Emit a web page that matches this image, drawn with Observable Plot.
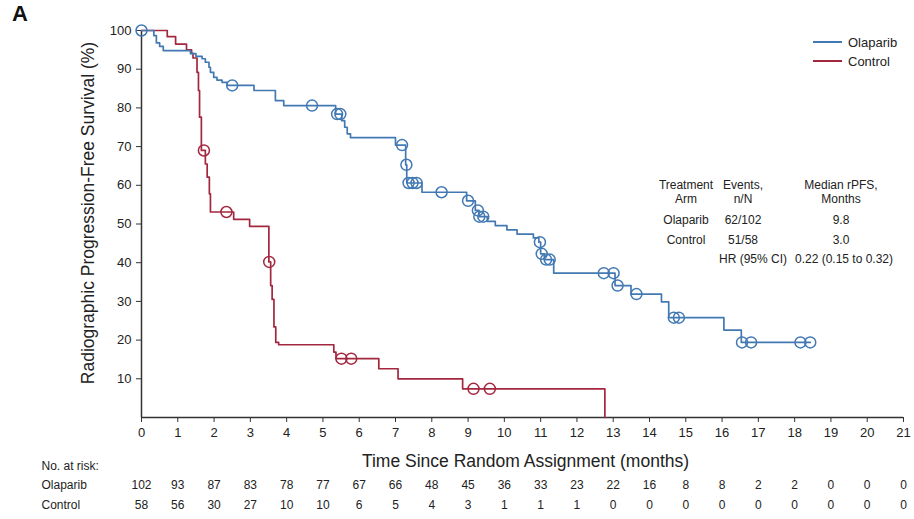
<!DOCTYPE html>
<html><head><meta charset="utf-8">
<script src="https://cdn.jsdelivr.net/npm/d3@7"></script>
<script src="https://cdn.jsdelivr.net/npm/@observablehq/plot@0.6"></script>
<style>
body{margin:0;background:#fff;font-family:"Liberation Sans",Arial,sans-serif;}
#wrap{position:relative;width:914px;height:519px;overflow:hidden;}
.abs{position:absolute;color:#222;white-space:nowrap;line-height:1;}
.c{transform:translate(-50%,-50%);text-align:center;}
</style></head><body><div id="wrap"></div>
<script>
// ---- data ----
const olapT = [0, 0.34, 0.41, 0.5, 0.6, 1.35, 1.5, 1.67, 1.76, 1.86, 1.9, 1.99, 2.08, 2.22, 2.36, 3.1, 3.69, 3.92, 5.35, 5.52, 5.6, 5.67, 5.76, 7.0, 7.28, 7.31, 7.73, 8.96, 9.2, 9.3, 9.53, 9.75, 10.07, 10.35, 10.8, 10.95, 11.0, 11.1, 11.36, 13.05, 13.49, 14.33, 14.53, 16.05, 16.53, 18.43];
const olapS = [100, 98.7, 96.8, 95.9, 94.8, 94.0, 93.3, 92.7, 91.8, 90.5, 89.2, 87.9, 87.2, 86.6, 85.8, 84.5, 81.9, 80.6, 78.4, 76.7, 75.0, 73.3, 72.3, 70.4, 65.3, 60.6, 58.2, 56.0, 53.5, 51.9, 50.7, 49.6, 48.5, 47.4, 46.4, 45.3, 42.3, 40.8, 37.3, 34.1, 31.9, 29.9, 25.8, 22.6, 19.4, 19.4];
const olapCensT = [0, 2.5, 4.7, 5.39, 5.48, 7.18, 7.3, 7.36, 7.47, 7.58, 8.27, 9.0, 9.27, 9.31, 9.42, 10.98, 11.03, 11.15, 11.25, 12.74, 13.01, 13.12, 13.64, 14.67, 14.81, 16.55, 16.8, 18.16, 18.43];
const olapCensS = [100, 85.8, 80.6, 78.4, 78.4, 70.4, 65.3, 60.6, 60.6, 60.6, 58.2, 56.0, 53.5, 51.9, 51.9, 45.3, 42.3, 40.8, 40.8, 37.3, 37.3, 34.1, 31.9, 25.8, 25.8, 19.4, 19.4, 19.4, 19.4];
const ctrlT = [0, 0.71, 0.94, 1.24, 1.38, 1.42, 1.53, 1.57, 1.6, 1.65, 1.76, 1.81, 1.87, 1.9, 2.54, 2.98, 3.51, 3.56, 3.6, 3.65, 3.7, 3.78, 5.3, 5.36, 6.54, 7.07, 8.85, 12.77];
const ctrlS = [100, 98.4, 96.5, 95.0, 94.1, 92.9, 89.2, 84.5, 77.6, 69.0, 65.5, 62.1, 57.8, 53.1, 51.2, 49.4, 40.2, 34.1, 30.5, 23.4, 19.4, 18.8, 16.9, 15.2, 12.6, 10.0, 7.4, 0];
const ctrlCensT = [1.72, 2.34, 3.52, 5.51, 5.78, 9.15, 9.6];
const ctrlCensS = [69.0, 53.1, 40.2, 15.2, 15.2, 7.4, 7.4];

const xTicks = [0,1,2,3,4,5,6,7,8,9,10,11,12,13,14,15,16,17,18,19,20,21];
const yTicks = [10,20,30,40,50,60,70,80,90,100];
const olapRisk = [102,93,87,83,78,77,67,66,48,45,36,33,23,22,16,8,8,2,2,0,0,0];
const ctrlRisk = [58,56,30,27,10,10,6,5,4,3,1,1,1,0,0,0,0,0,0,0,0,0];

const seriesNames = ["Olaparib", "Control"];
const seriesColors = ["#4379b3", "#a3283f"];

const tableHeader = [["Treatment","Arm"],["Events,","n/N"],["Median rPFS,","Months"]];
const tableRows = [["Olaparib","62/102","9.8"],["Control","51/58","3.0"]];
const hrLabel = "HR (95% CI)";
const hrValue = "0.22 (0.15 to 0.32)";

const xLabel = "Time Since Random Assignment (months)";
const yLabel = "Radiographic Progression-Free Survival (%)";
const panelLabel = "A";
const riskTitle = "No. at risk:";

// ---- build ----
const olap = olapT.map((t,i)=>({t, s:olapS[i]}));
const ctrl = ctrlT.map((t,i)=>({t, s:ctrlS[i]}));
const olapC = olapCensT.map((t,i)=>({t, s:olapCensS[i]}));
const ctrlC = ctrlCensT.map((t,i)=>({t, s:ctrlCensS[i]}));
const riskO = xTicks.map((t,i)=>({t, n:olapRisk[i]}));
const riskC = xTicks.map((t,i)=>({t, n:ctrlRisk[i]}));
const [blue, red] = seriesColors;
const ink = "#222";

const chart = Plot.plot({
  width: 914, height: 519,
  marginLeft: 141, marginRight: 11, marginTop: 30, marginBottom: 102,
  x: {domain: [0, 21]},
  y: {domain: [0, 100]},
  style: {fontFamily: '"Liberation Sans", Arial, sans-serif', fontSize: "13px", color: ink, background: "white", overflow: "visible"},
  marks: [
    Plot.axisX({ticks: xTicks, tickSize: 5, tickPadding: 5, label: null, fontSize: 13, stroke: "#333"}),
    Plot.axisY({ticks: yTicks, tickSize: 5, tickPadding: 5, label: null, fontSize: 13, stroke: "#333"}),
    Plot.ruleX([0], {stroke: "#333", strokeWidth: 1.5}),
    Plot.ruleY([0], {stroke: "#333", strokeWidth: 1.5}),
    Plot.line(ctrl, {x: "t", y: "s", curve: "step-after", stroke: red, strokeWidth: 1.7}),
    Plot.line(olap, {x: "t", y: "s", curve: "step-after", stroke: blue, strokeWidth: 1.7}),
    Plot.dot(ctrlC, {x: "t", y: "s", r: 5.5, stroke: red, strokeWidth: 1.5, fill: "none"}),
    Plot.dot(olapC, {x: "t", y: "s", r: 5.5, stroke: blue, strokeWidth: 1.5, fill: "none"}),
    Plot.text([xLabel], {text: d => d, frameAnchor: "bottom", dx: 3, dy: 49, fontSize: 17.5, fill: ink}),
    Plot.text([yLabel], {text: d => d, frameAnchor: "left", textAnchor: "middle", dx: -53, dy: -11, rotate: -90, fontSize: 17.5, fill: ink}),
    Plot.text([riskTitle], {text: d => d, frameAnchor: "bottom-left", textAnchor: "start", dx: -100, dy: 52, fontSize: 12, fill: ink}),
    Plot.text([seriesNames[0]], {text: d => d, frameAnchor: "bottom-left", textAnchor: "start", dx: -100, dy: 71, fontSize: 12, fill: ink}),
    Plot.text([seriesNames[1]], {text: d => d, frameAnchor: "bottom-left", textAnchor: "start", dx: -100, dy: 91, fontSize: 12, fill: ink}),
    Plot.text(riskO, {x: "t", text: "n", frameAnchor: "bottom", dy: 71, fontSize: 12, fill: ink}),
    Plot.text(riskC, {x: "t", text: "n", frameAnchor: "bottom", dy: 91, fontSize: 12, fill: ink})
  ]
});
const wrap = document.getElementById("wrap");
wrap.appendChild(chart);
chart.style.position = "absolute"; chart.style.left = "0"; chart.style.top = "0";

function addText(txt, x, y, size, extra) {
  const d = document.createElement("div");
  d.className = "abs c";
  d.textContent = txt;
  d.style.left = x + "px"; d.style.top = y + "px"; d.style.fontSize = size + "px";
  if (extra) Object.assign(d.style, extra);
  wrap.appendChild(d);
  return d;
}
// panel label
addText(panelLabel, 20, 14, 22, {fontWeight: "bold", color: "#111"});
// legend
seriesNames.forEach((n, i) => {
  const y = 42 + i * 19;
  const sw = document.createElement("div");
  sw.className = "abs";
  Object.assign(sw.style, {left: "813px", top: (y - 1) + "px", width: "29px", height: "2px", background: seriesColors[i]});
  wrap.appendChild(sw);
  addText(n, 848, y, 13, {transform: "translate(0,-50%)", textAlign: "left"});
});
// stats table
const colX = [686, 743, 841];
tableHeader.forEach((h, i) => { addText(h[0], colX[i], 185, 12); addText(h[1], colX[i], 199, 12); });
tableRows.forEach((r, j) => r.forEach((v, i) => addText(v, colX[i], 220 + j * 20, 12)));
addText(hrLabel, 753, 259, 12);
addText(hrValue, 844, 259, 12);
</script></body></html>
